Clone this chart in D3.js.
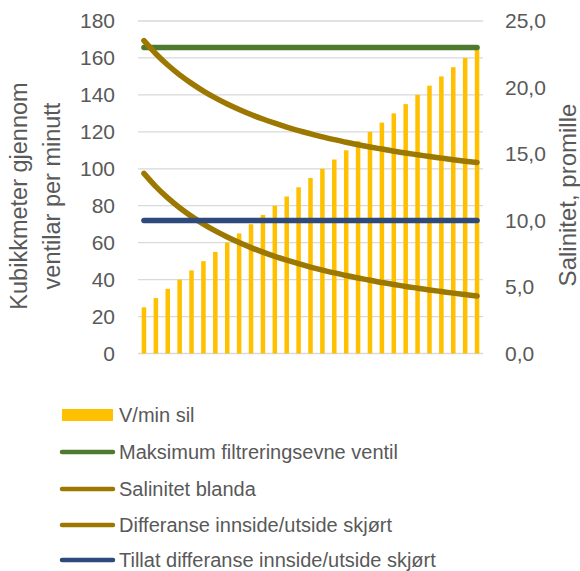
<!DOCTYPE html>
<html>
<head>
<meta charset="utf-8">
<script src="https://cdn.jsdelivr.net/npm/d3@7"></script>
<style>
  body { margin: 0; background: #fff; }
  svg { display: block; font-family: "Liberation Sans", Arial, sans-serif; }
</style>
</head>
<body>
<svg width="580" height="571"></svg>
<script>
// kategoriar langs x (ingen etikettar synlege)
const kategoriar = ["1","2","3","4","5","6","7","8","9","10","11","12","13","14","15",
    "16","17","18","19","20","21","22","23","24","25","26","27","28","29"];

// V/min sil (venstre akse)
const vMinSil = [25,30,35,40,45,50,55,60,65,70,75,80,85,90,95,
    100,105,110,115,120,125,130,135,140,145,150,155,160,165];

// linjer på høgre akse (promille)
const maksFiltrering = [23,23,23,23,23,23,23,23,23,23,23,23,23,23,23,
    23,23,23,23,23,23,23,23,23,23,23,23,23,23];
const salinitetBlanda = [23.52,22.54,21.69,20.95,20.31,19.73,19.22,18.76,18.35,17.97,
    17.63,17.32,17.03,16.76,16.52,16.29,16.08,15.88,15.70,15.53,
    15.37,15.21,15.07,14.94,14.81,14.69,14.57,14.46,14.36];
const differanse = [13.54,12.55,11.70,10.96,10.31,9.73,9.22,8.76,8.34,7.96,
    7.62,7.31,7.02,6.75,6.50,6.27,6.06,5.86,5.68,5.51,
    5.34,5.19,5.04,4.91,4.78,4.66,4.54,4.43,4.32];
const tillatDifferanse = [10,10,10,10,10,10,10,10,10,10,10,10,10,10,10,
    10,10,10,10,10,10,10,10,10,10,10,10,10,10];

const venstreTicks = [0,20,40,60,80,100,120,140,160,180];
const hogreTicks = [0,5,10,15,20,25];

const seriar = [
    { namn: "V/min sil", type: "bar", farge: "#FFC000" },
    { namn: "Maksimum filtreringsevne ventil", type: "line", farge: "#4E7A30", verdiar: maksFiltrering },
    { namn: "Salinitet blanda", type: "line", farge: "#9C7800", verdiar: salinitetBlanda },
    { namn: "Differanse innside/utside skjørt", type: "line", farge: "#9C7800", verdiar: differanse },
    { namn: "Tillat differanse innside/utside skjørt", type: "line", farge: "#2E4A7D", verdiar: tillatDifferanse }
];

const svg = d3.select("svg");
const area = { left: 138, right: 483, top: 21, bottom: 353.5 };
const tekstFarge = "#595959";

// skalaer
const scX = d3.scaleBand()
    .domain(kategoriar)
    .range([area.left, area.right])
    .paddingInner(0.62)
    .paddingOuter(0.31);
const scY = d3.scaleLinear().domain([0, 180]).range([area.bottom, area.top]);
const scY2 = d3.scaleLinear().domain([0, 25]).range([area.bottom, area.top]);

// rutenett
svg.append("g")
    .selectAll("line")
    .data(venstreTicks)
    .enter()
    .append("line")
    .attr("x1", area.left)
    .attr("x2", area.right)
    .attr("y1", d => scY(d))
    .attr("y2", d => scY(d))
    .attr("stroke", "#D9D9D9")
    .attr("stroke-width", 1.3);

// venstre akse
const aksV = svg.append("g")
    .attr("transform", `translate(${area.left},0)`)
    .call(d3.axisLeft(scY).tickValues(venstreTicks).tickSize(0).tickPadding(23));
aksV.select(".domain").remove();
aksV.selectAll("text")
    .style("font-size", "21px")
    .style("font-family", "Liberation Sans, Arial, sans-serif")
    .attr("fill", tekstFarge);

// høgre akse
const aksH = svg.append("g")
    .attr("transform", `translate(${area.right},0)`)
    .call(d3.axisRight(scY2).tickValues(hogreTicks).tickSize(0).tickPadding(22)
        .tickFormat(d => d3.format(".1f")(d).replace(".", ",")));
aksH.select(".domain").remove();
aksH.selectAll("text")
    .style("font-size", "21px")
    .style("font-family", "Liberation Sans, Arial, sans-serif")
    .attr("fill", tekstFarge);

// søyler
svg.append("g")
    .selectAll("rect")
    .data(vMinSil)
    .enter()
    .append("rect")
    .attr("x", (d, i) => scX(kategoriar[i]))
    .attr("y", d => scY(d))
    .attr("width", scX.bandwidth())
    .attr("height", d => scY(0) - scY(d))
    .attr("fill", seriar[0].farge);

// linjer (glatta som i Excel)
const midt = k => scX(k) + scX.bandwidth() / 2;
seriar.filter(s => s.type === "line").forEach(s => {
    const line = d3.line()
        .x((d, i) => midt(kategoriar[i]))
        .y(d => scY2(d))
        .curve(d3.curveCatmullRom.alpha(0.5));
    svg.append("path")
        .attr("d", line(s.verdiar))
        .attr("fill", "none")
        .attr("stroke", s.farge)
        .attr("stroke-width", 5.5)
        .attr("stroke-linecap", "round");
});

// aksetitlar
const titV = svg.append("text")
    .attr("transform", "translate(27,196) rotate(-90)")
    .attr("text-anchor", "middle")
    .attr("fill", tekstFarge)
    .style("font-size", "23.5px");
titV.append("tspan").attr("x", 0).attr("y", 0).text("Kubikkmeter gjennom");
titV.append("tspan").attr("x", 0).attr("y", 33).text("ventilar per minutt");

svg.append("text")
    .attr("transform", "translate(576,195) rotate(-90)")
    .attr("text-anchor", "middle")
    .attr("fill", tekstFarge)
    .style("font-size", "24px")
    .text("Salinitet, promille");

// forklaring
const legend = svg.append("g");
const radY = [415, 452, 489, 525, 560];
seriar.forEach((s, i) => {
    const g = legend.append("g").attr("transform", `translate(0,${radY[i]})`);
    if (s.type === "bar") {
        g.append("rect")
            .attr("x", 62).attr("y", -6)
            .attr("width", 51).attr("height", 12)
            .attr("fill", s.farge);
    } else {
        g.append("line")
            .attr("x1", 62).attr("x2", 113)
            .attr("y1", 0).attr("y2", 0)
            .attr("stroke", s.farge)
            .attr("stroke-width", 4.5)
            .attr("stroke-linecap", "round");
    }
    g.append("text")
        .attr("x", 119)
        .attr("y", 0)
        .attr("dy", "0.35em")
        .attr("fill", tekstFarge)
        .style("font-size", "20px")
        .text(s.namn);
});
</script>
</body>
</html>
